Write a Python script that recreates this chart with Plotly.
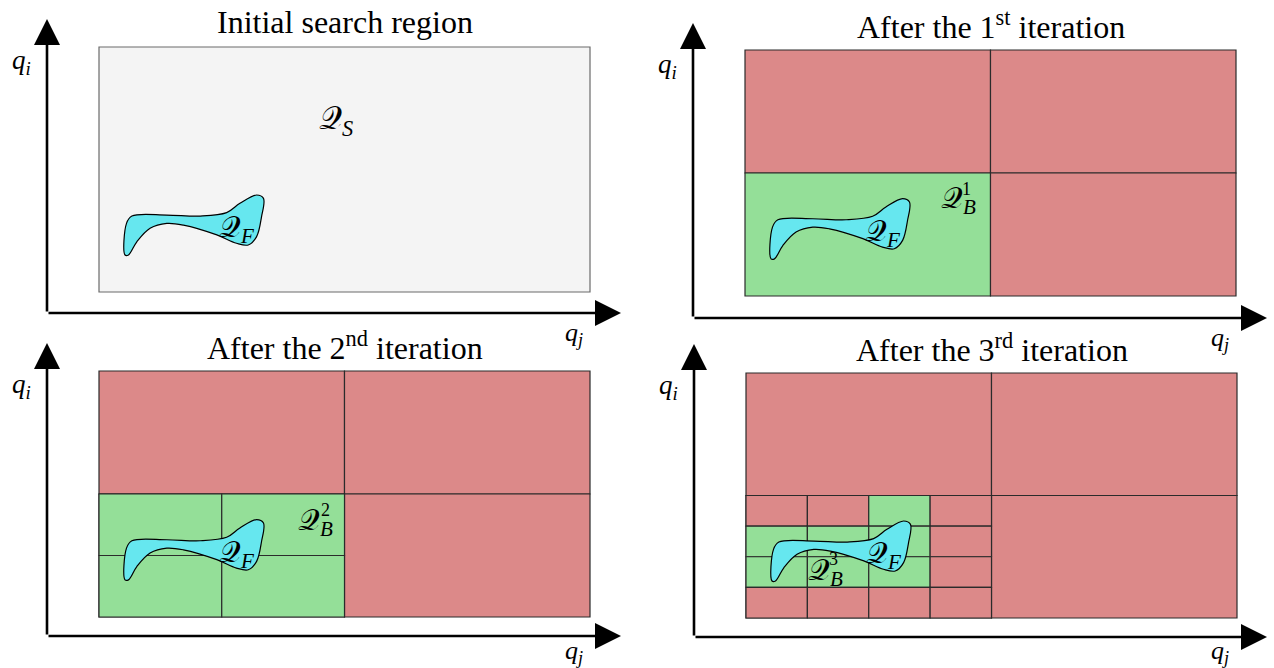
import plotly.graph_objects as go

FIG_W, FIG_H = 1274, 668

# ---- content -------------------------------------------------------------
titles = [
    "Initial search region",
    "After the 1<sup>st</sup> iteration",
    "After the 2<sup>nd</sup> iteration",
    "After the 3<sup>rd</sup> iteration",
]

# status of the cells produced by each bisection, rows listed top to bottom
# "K" = kept (may contain feasible points), "X" = discarded
quadrant_status = [["X", "X"],
                   ["K", "X"]]
level2_status = [["K", "K"],
                 ["K", "K"]]
level3_status = [["X", "X", "K", "X"],
                 ["K", "K", "K", "X"],
                 ["K", "K", "K", "X"],
                 ["X", "X", "X", "X"]]

# outline of the feasible set, in units of the search region (u right, v up)
blob_u = [0.053, 0.056, 0.067, 0.138, 0.206, 0.260, 0.287, 0.321, 0.335, 0.331,
          0.321, 0.304, 0.280, 0.240, 0.172, 0.138, 0.104, 0.077, 0.060, 0.053]
blob_v = [0.151, 0.280, 0.310, 0.314, 0.310, 0.324, 0.362, 0.396, 0.382, 0.307,
          0.226, 0.192, 0.199, 0.233, 0.273, 0.280, 0.260, 0.205, 0.151, 0.151]

# ---- panel layout (pixels): region box, axis origin, arrow tips ------------
panels = [
    dict(box=(99, 47, 590, 292), origin=(47, 313), tips=(621, 19), top=True, left=True),
    dict(box=(745, 50, 1236, 296), origin=(693, 318), tips=(1267, 23), top=True, left=False),
    dict(box=(99, 371, 590, 617), origin=(47, 636), tips=(621, 343), top=False, left=True),
    dict(box=(746, 373, 1237, 618), origin=(694, 637), tips=(1267, 344), top=False, left=False),
]

GRAY_FILL = "#f4f4f4"
RED = "#dc8989"
GREEN = "#94df98"
CYAN = "#66e7ef"
EDGE = "#2b2b2b"
SERIF = "Liberation Serif"
SCRIPT_Q = "\U0001D4AC"

fig = go.Figure()
layout = dict(width=FIG_W, height=FIG_H, margin=dict(l=0, r=0, t=0, b=0),
              paper_bgcolor="white", plot_bgcolor="rgba(0,0,0,0)",
              showlegend=False)
shapes, annotations = [], []


def to_u(px, box):
    return (px - box[0]) / (box[2] - box[0])


def to_v(py, box):
    return (box[3] - py) / (box[3] - box[1])


def add_cells(status, u0, u1, v0, v1, xr, yr, lw=1.2):
    rows, cols = len(status), len(status[0])
    du, dv = (u1 - u0) / cols, (v1 - v0) / rows
    for r, row in enumerate(status):
        for c, s in enumerate(row):
            shapes.append(dict(
                type="rect", xref=xr, yref=yr, layer="below",
                x0=u0 + c * du, x1=u0 + (c + 1) * du,
                y0=v1 - (r + 1) * dv, y1=v1 - r * dv,
                fillcolor=GREEN if s == "K" else RED,
                line=dict(color=EDGE, width=lw)))


def label(text, x, y, xr, yr, size, **kw):
    annotations.append(dict(text=text, x=x, y=y, xref=xr, yref=yr,
                            showarrow=False, borderpad=0,
                            xanchor="center", yanchor="middle",
                            font=dict(family=SERIF, size=size, color="black"), **kw))


def paper_label(text, px, py, size, **kw):
    label(text, px / FIG_W, 1 - py / FIG_H, "paper", "paper", size, **kw)


for i, p in enumerate(panels):
    n = "" if i == 0 else str(i + 1)
    xr, yr = "x" + n, "y" + n
    box = p["box"]
    # axis domains: each panel fills one quarter of the figure
    xpx = (0, FIG_W / 2) if p["left"] else (FIG_W / 2, FIG_W)
    ypx = (0, FIG_H / 2) if p["top"] else (FIG_H / 2, FIG_H)
    layout["xaxis" + n] = dict(domain=[xpx[0] / FIG_W, xpx[1] / FIG_W],
                               range=[to_u(xpx[0], box), to_u(xpx[1], box)],
                               visible=False, fixedrange=True, anchor=yr)
    layout["yaxis" + n] = dict(domain=[1 - ypx[1] / FIG_H, 1 - ypx[0] / FIG_H],
                               range=[to_v(ypx[1], box), to_v(ypx[0], box)],
                               visible=False, fixedrange=True, anchor=xr)

    # cells
    if i == 0:
        shapes.append(dict(type="rect", xref=xr, yref=yr, layer="below",
                           x0=0, x1=1, y0=0, y1=1, fillcolor=GRAY_FILL,
                           line=dict(color="#6a6a6a", width=1.2)))
    else:
        add_cells(quadrant_status, 0, 1, 0, 1, xr, yr)
        if i == 2:
            add_cells(level2_status, 0, 0.5, 0, 0.5, xr, yr)
        if i == 3:
            add_cells(level3_status, 0, 0.5, 0, 0.5, xr, yr)

    # feasible set
    fig.add_trace(go.Scatter(x=blob_u, y=blob_v, xaxis=xr, yaxis=yr, mode="lines",
                             line=dict(color="black", width=1.2, shape="spline", smoothing=1.0),
                             fill="toself", fillcolor=CYAN, hoverinfo="skip"))

    # coordinate axes with arrow heads
    ou, ov = to_u(p["origin"][0], box), to_v(p["origin"][1], box)
    tu, tv = to_u(p["tips"][0], box), to_v(p["tips"][1], box)
    for (hx, hy) in [(tu, ov), (ou, tv)]:
        annotations.append(dict(x=hx, y=hy, ax=ou, ay=ov, xref=xr, yref=yr,
                                axref=xr, ayref=yr, text="", showarrow=True,
                                arrowhead=2, arrowsize=2.0, arrowwidth=2.6,
                                arrowcolor="black", standoff=0, startstandoff=0))

    # axis names
    paper_label("<i>q<sub>i</sub></i>", p["origin"][0] - 26, p["tips"][1] + 43, 27)
    paper_label("<i>q<sub>j</sub></i>", p["tips"][0] - 47,
                min(p["origin"][1] + 21, FIG_H - 16), 26)

    # panel title
    paper_label(titles[i], (box[0] + box[2]) / 2, box[1] - 25, 32)

    # feasible-set label
    label(SCRIPT_Q + "<sub><i>F</i></sub>", 0.281, 0.257, xr, yr, 30)

# region labels
label(SCRIPT_Q + "<sub><i>S</i></sub>", 0.483, 0.702, "x", "y", 32)
for n, (u, v, su, sv) in zip(["1", "2", "3"],
                             [(0.434, 0.390, 0.452, 0.436),
                              (0.440, 0.386, 0.462, 0.435),
                              (0.161, 0.188, 0.178, 0.241)]):
    xr, yr = ("x2", "y2") if n == "1" else (("x3", "y3") if n == "2" else ("x4", "y4"))
    label(SCRIPT_Q + "<sub><i>B</i></sub>", u, v, xr, yr, 30)
    label(n, su, sv, xr, yr, 18)

layout["shapes"] = shapes
layout["annotations"] = annotations
fig.update_layout(**layout)
fig.write_html("out.html")
